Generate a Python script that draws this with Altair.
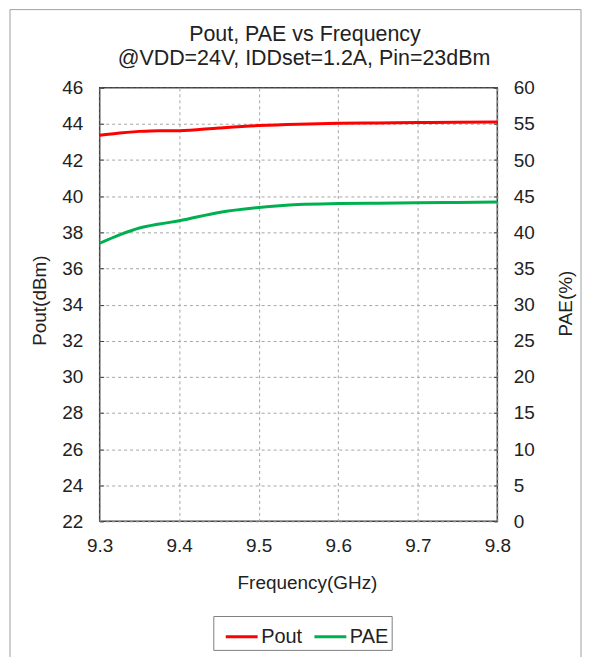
import altair as alt
import pandas as pd

freq = [9.30, 9.325, 9.35, 9.375, 9.40, 9.45, 9.50, 9.55, 9.60, 9.65, 9.70, 9.75, 9.80]
pout = [43.37, 43.50, 43.59, 43.63, 43.63, 43.78, 43.91, 43.99, 44.04, 44.06, 44.08, 44.10, 44.11]
pae = [38.49, 39.65, 40.60, 41.15, 41.60, 42.75, 43.43, 43.85, 43.98, 44.04, 44.08, 44.14, 44.20]

x_ticks = [9.3, 9.4, 9.5, 9.6, 9.7, 9.8]
pout_ticks = list(range(22, 47, 2))
pae_ticks = list(range(0, 61, 5))
series = ["Pout", "PAE"]
colors = ["#FF0000", "#00B050"]
title_lines = ["Pout, PAE vs Frequency", "@VDD=24V, IDDset=1.2A, Pin=23dBm"]

df = pd.DataFrame({"freq": freq, "Pout": pout, "PAE": pae})
one = pd.DataFrame({"a": [0]})

FONT = "Liberation Sans"
TXT = "#222222"
GRID = "#A6A6A6"
FS = 19

x_scale = alt.Scale(domain=[9.3, 9.8], nice=False, zero=False)
pout_scale = alt.Scale(domain=[22, 46], nice=False, zero=False)
pae_scale = alt.Scale(domain=[0, 60], nice=False, zero=False)

x_enc = alt.X(
    "freq:Q", scale=x_scale,
    axis=alt.Axis(values=x_ticks, format=".1f", title="Frequency(GHz)", grid=True,
                  gridDash=[3, 3], gridColor=GRID, domain=False, ticks=False,
                  labelFlush=False, labelPadding=15, labelFontSize=FS, labelFont=FONT,
                  labelColor=TXT, titleFontSize=FS, titleFont=FONT, titleColor=TXT,
                  titleFontWeight="normal", titleX=208, titleY=61, titleBaseline="middle",
                  titleAlign="center"),
)

color_enc = alt.Color(
    "series:N", scale=alt.Scale(domain=series, range=colors),
    legend=alt.Legend(orient="none", legendX=114, legendY=530, direction="horizontal",
                      title=None, symbolType="stroke", symbolSize=1024, symbolStrokeWidth=3,
                      symbolOffset=8,
                      labelFontSize=20, labelFont=FONT, labelColor=TXT, labelOffset=2,
                      columnPadding=2, padding=3, strokeColor="#808080"),
)

frame = alt.Chart(one).mark_rect(
    fill=None, stroke="#A0A0A0", strokeWidth=1
).encode(x=alt.value(-90), x2=alt.value(483), y=alt.value(-78.5), y2=alt.value(600))

title1 = alt.Chart(one).mark_text(
    font=FONT, fontSize=21.5, color=TXT, align="center", baseline="alphabetic"
).encode(x=alt.value(206), y=alt.value(-47), text=alt.value(title_lines[0]))

title2 = alt.Chart(one).mark_text(
    font=FONT, fontSize=21.5, color=TXT, align="center", baseline="alphabetic"
).encode(x=alt.value(205), y=alt.value(-23), text=alt.value(title_lines[1]))

pout_line = alt.Chart(df).transform_calculate(series="'Pout'").mark_line(
    strokeWidth=3, interpolate="monotone"
).encode(
    x=x_enc,
    y=alt.Y("Pout:Q", scale=pout_scale,
            axis=alt.Axis(orient="left", values=pout_ticks, title="Pout(dBm)", grid=True,
                          gridDash=[3, 3], gridColor=GRID, domain=False, ticks=False,
                          labelPadding=17, labelFontSize=FS, labelFont=FONT, labelColor=TXT,
                          titleFontSize=FS, titleFont=FONT, titleColor=TXT,
                          titleFontWeight="normal", titleX=-60, titleY=213,
                          titleAngle=270, titleBaseline="middle", titleAlign="center")),
    color=color_enc,
)

pae_line = alt.Chart(df).transform_calculate(series="'PAE'").mark_line(
    strokeWidth=3, interpolate="monotone"
).encode(
    x=x_enc,
    y=alt.Y("PAE:Q", scale=pae_scale,
            axis=alt.Axis(orient="right", values=pae_ticks, title="PAE(%)", grid=False,
                          domain=False, ticks=False,
                          labelPadding=16, labelFontSize=FS, labelFont=FONT, labelColor=TXT,
                          titleFontSize=FS, titleFont=FONT, titleColor=TXT,
                          titleFontWeight="normal", titleX=68, titleY=216,
                          titleAngle=270, titleBaseline="middle", titleAlign="center")),
    color=color_enc,
)

pout_tick_layer = alt.Chart(df).mark_line(opacity=0).encode(
    x=x_enc,
    y=alt.Y("Pout:Q", scale=pout_scale,
            axis=alt.Axis(orient="left", values=pout_ticks, title=None, offset=-4, tickSize=4,
                          tickColor="#404040", tickWidth=1, labels=False, domain=False,
                          grid=False)),
)

pae_tick_layer = alt.Chart(df).mark_line(opacity=0).encode(
    x=x_enc,
    y=alt.Y("PAE:Q", scale=pae_scale,
            axis=alt.Axis(orient="right", values=pae_ticks, title=None, offset=-4, tickSize=4,
                          tickColor="#404040", tickWidth=1, labels=False, domain=False,
                          grid=False)),
)

chart = alt.layer(
    frame, title1, title2, pout_line, pae_line, pout_tick_layer, pae_tick_layer
).resolve_scale(y="independent").resolve_axis(y="independent").properties(
    width=399, height=435,
    autosize=alt.AutoSizeParams(type="none"),
    padding={"left": 92, "top": 79, "right": 90, "bottom": 135},
).configure_view(stroke="#404040", strokeWidth=1.5)

chart.save("out.html", embed_options={"renderer": "svg", "actions": False})
